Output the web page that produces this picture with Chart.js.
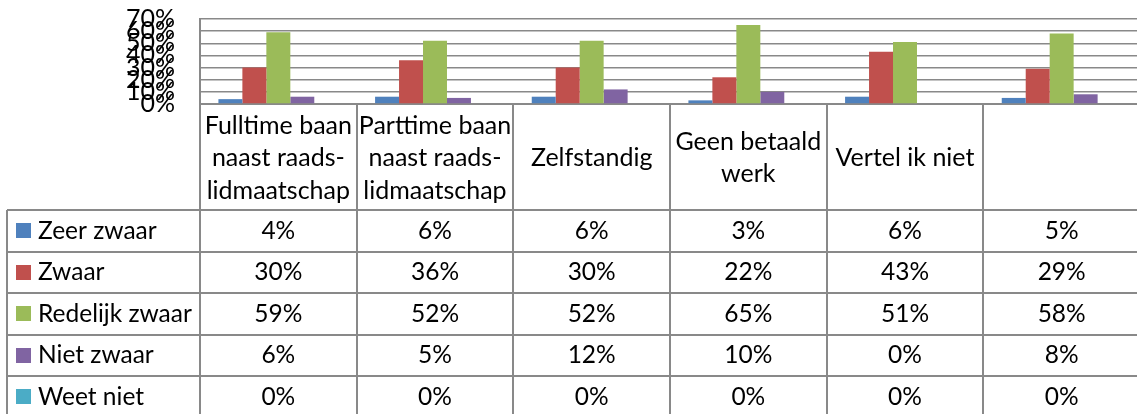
<!DOCTYPE html>
<html>
<head>
<meta charset="utf-8">
<script src="https://cdn.jsdelivr.net/npm/chart.js@4"></script>
<style>
  html, body { margin: 0; padding: 0; background: #fff; overflow: hidden; }
  #wrap { width: 1140px; height: 414px; }
</style>
</head>
<body>
<div id="wrap"><canvas id="chart" width="1140" height="414"></canvas></div>
<script>
// categories (lines as shown in the table header)
const categories = [
  ['Fulltime baan', 'naast raads-', 'lidmaatschap'],
  ['Parttime baan', 'naast raads-', 'lidmaatschap'],
  ['Zelfstandig'],
  ['Geen betaald', 'werk'],
  ['Vertel ik niet'],
  ['']
];
const seriesNames = ['Zeer zwaar', 'Zwaar', 'Redelijk zwaar', 'Niet zwaar', 'Weet niet'];
const zeerZwaar = [4, 6, 6, 3, 6, 5];
const zwaar = [30, 36, 30, 22, 43, 29];
const redelijkZwaar = [59, 52, 52, 65, 51, 58];
const nietZwaar = [6, 5, 12, 10, 0, 8];
const weetNiet = [0, 0, 0, 0, 0, 0];
const yTicks = [0, 10, 20, 30, 40, 50, 60, 70];

const colors = ['#4F81BD', '#C0504D', '#9BBB59', '#8064A2', '#4BACC6'];
const seriesValues = [zeerZwaar, zwaar, redelijkZwaar, nietZwaar, weetNiet];
const FONT = 'Lato, "Open Sans", sans-serif';
const LINE = '#898989';

// data table drawn under the plot, aligned to the x scale
const dataTable = {
  id: 'dataTable',
  afterDraw(chart) {
    const ctx = chart.ctx;
    const xs = chart.scales.x;
    const top = chart.chartArea.bottom;
    const colW = (xs.right - xs.left) / categories.length;
    const headerBottom = 210;
    const rowH = 41.5;
    const tableLeft = 7;
    const bottom = 414;

    ctx.save();
    ctx.strokeStyle = LINE;
    ctx.lineWidth = 2;
    // vertical lines
    for (let i = 0; i <= categories.length; i++) {
      const x = Math.round(xs.left + i * colW);
      ctx.beginPath();
      ctx.moveTo(x, top);
      ctx.lineTo(x, bottom);
      ctx.stroke();
    }
    ctx.beginPath();
    ctx.moveTo(tableLeft, headerBottom);
    ctx.lineTo(tableLeft, bottom);
    ctx.stroke();
    // horizontal lines
    for (let r = 0; r <= seriesNames.length; r++) {
      const y = Math.round(headerBottom + r * rowH);
      ctx.beginPath();
      ctx.moveTo(tableLeft, y);
      ctx.lineTo(xs.right, y);
      ctx.stroke();
    }

    ctx.fillStyle = '#000';
    ctx.font = '25px ' + FONT;
    ctx.textBaseline = 'middle';
    ctx.textAlign = 'center';
    // header
    const headMid = (top + headerBottom) / 2 + 1;
    const lh = 32.5;
    categories.forEach((lines, i) => {
      const cx = xs.left + (i + 0.5) * colW;
      const y0 = headMid - (lines.length - 1) * lh / 2;
      lines.forEach((t, k) => ctx.fillText(t, cx, y0 + k * lh));
    });
    // rows
    ctx.font = '24.5px ' + FONT;
    seriesNames.forEach((name, r) => {
      const cy = headerBottom + (r + 0.5) * rowH;
      ctx.fillStyle = colors[r];
      ctx.fillRect(16, Math.round(cy - 7.5), 15, 15);
      ctx.fillStyle = '#000';
      ctx.textAlign = 'left';
      ctx.fillText(name, 38, cy);
      ctx.textAlign = 'center';
      seriesValues[r].forEach((v, i) => {
        ctx.fillText(v + '%', xs.left + (i + 0.5) * colW, cy);
      });
    });
    ctx.restore();
  }
};

new Chart(document.getElementById('chart'), {
  type: 'bar',
  data: {
    labels: categories.map(c => c.join(' ')),
    datasets: seriesNames.map((name, i) => ({
      label: name,
      data: seriesValues[i],
      backgroundColor: colors[i],
      borderWidth: 0,
      categoryPercentage: 0.765,
      barPercentage: 1
    }))
  },
  options: {
    responsive: false,
    animation: false,
    layout: { padding: { top: 19, bottom: 310, left: 0, right: 0 } },
    plugins: { legend: { display: false }, tooltip: { enabled: false } },
    scales: {
      x: {
        grid: { display: false },
        border: { display: true, color: LINE, width: 2 },
        ticks: { display: false },
        afterFit: s => { s.height = 0; s.paddingLeft = 0; s.paddingRight = 0; }
      },
      y: {
        min: 0,
        max: 70,
        afterBuildTicks: s => { s.ticks = yTicks.map(v => ({ value: v })); },
        afterFit: s => { s.width = 200; s.paddingTop = 0; s.paddingBottom = 0; },
        grid: { color: LINE, lineWidth: 1.5, drawTicks: false },
        border: { display: true, color: LINE, width: 2 },
        ticks: {
          autoSkip: false,
          padding: 25,
          color: '#000',
          font: { family: FONT, size: 25 },
          callback: v => v + '%'
        }
      }
    }
  },
  plugins: [dataTable]
});
</script>
</body>
</html>
